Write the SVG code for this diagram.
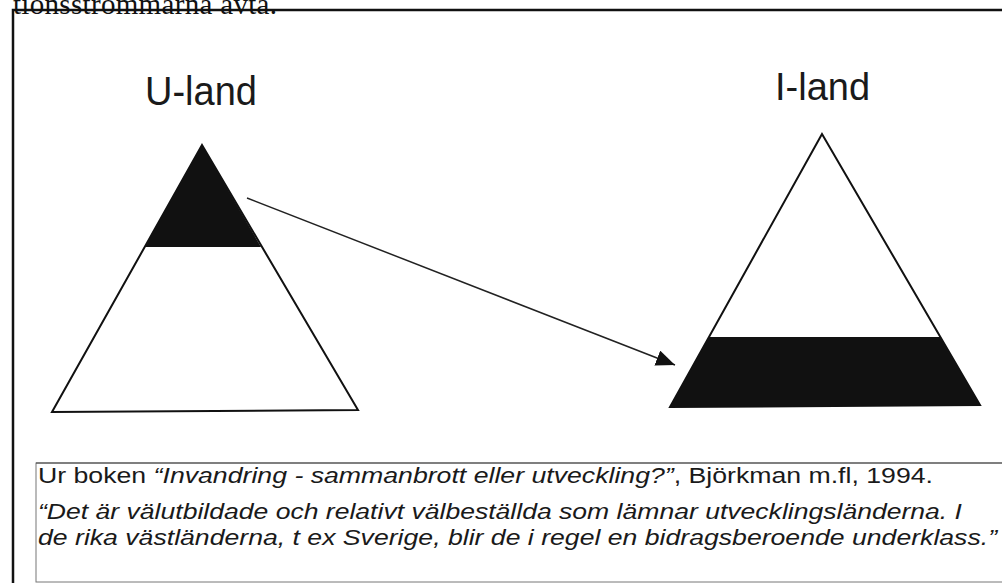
<svg xmlns="http://www.w3.org/2000/svg" width="1002" height="583" viewBox="0 0 1002 583">
  <style>
    .sans { font-family: "Liberation Sans", Arial, sans-serif; fill: #1a1a1a; }
    .tri { fill: #fff; stroke: #111; stroke-width: 2; stroke-linejoin: miter; }
    .band { fill: #111; }
    .it { font-style: italic; }
  </style>
  <defs>
    <marker id="ah" markerUnits="userSpaceOnUse" markerWidth="22" markerHeight="18" refX="19" refY="8" orient="auto">
      <path d="M0,0 L19,8 L0,16 Z" fill="#111"/>
    </marker>
  </defs>
  <rect width="1002" height="583" fill="#fff"/>
  <text x="13" y="14" font-family="'Liberation Serif', 'Times New Roman', serif" font-size="29" fill="#111" textLength="264">tionsstrommarna avta.</text>
  <path d="M13,583 V10 H1002" fill="none" stroke="#111" stroke-width="2.5"/>

  <g id="u-land">
    <text class="sans" x="145" y="105" font-size="40" textLength="112" lengthAdjust="spacingAndGlyphs">U-land</text>
    <polygon class="tri" points="202,145 52,412 358,410"/>
    <polygon class="band" points="202,145 145,247 261,247"/>
  </g>

  <g id="i-land">
    <text class="sans" x="775" y="100" font-size="38">I-land</text>
    <polygon class="tri" points="822,134 670,407 980,405"/>
    <polygon class="band" points="709,337 940,337 980,405 670,407"/>
  </g>

  <g id="connectors">
    <line x1="247" y1="198" x2="675" y2="365" stroke="#222" stroke-width="1.5" marker-end="url(#ah)"/>
  </g>

  <g id="quote">
    <rect x="36" y="463" width="975" height="119" fill="none" stroke="#777" stroke-width="1"/>
    <line x1="36" y1="463" x2="1002" y2="463" stroke="#444" stroke-width="1"/>
    <text class="sans" x="38" y="483" font-size="22" textLength="895" lengthAdjust="spacingAndGlyphs">Ur boken <tspan class="it">“Invandring - sammanbrott eller utveckling?”</tspan>, Björkman m.fl, 1994.</text>
    <text class="sans it" x="38" y="519" font-size="22" textLength="924" lengthAdjust="spacingAndGlyphs">“Det är välutbildade och relativt välbeställda som lämnar utvecklingsländerna. I</text>
    <text class="sans it" x="38" y="545" font-size="22" textLength="959" lengthAdjust="spacingAndGlyphs">de rika västländerna, t ex Sverige, blir de i regel en bidragsberoende underklass.”</text>
  </g>
</svg>
